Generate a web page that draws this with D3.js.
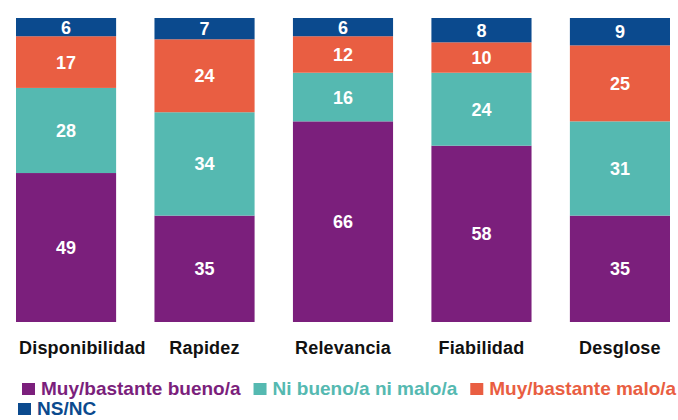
<!DOCTYPE html>
<html>
<head>
<meta charset="utf-8">
<script src="https://cdn.jsdelivr.net/npm/d3@7"></script>
<style>
  body { margin: 0; background: #fff; }
  svg { display: block; font-family: "Liberation Sans", Arial, sans-serif; font-weight: bold; }
</style>
</head>
<body>
<svg></svg>
<script>
var width = 678;
var height = 420;

var categories = ['Disponibilidad', 'Rapidez', 'Relevancia', 'Fiabilidad', 'Desglose'];
var seriesNames = ['Muy/bastante bueno/a', 'Ni bueno/a ni malo/a', 'Muy/bastante malo/a', 'NS/NC'];
var bueno = [49, 35, 66, 58, 35];
var neutro = [28, 34, 16, 24, 31];
var malo = [17, 24, 12, 10, 25];
var nsnc = [6, 7, 6, 8, 9];
var colors = ['#7b1f7c', '#55b9b1', '#e95e42', '#0b4a8e'];

var svg = d3.select('svg')
    .attr('width', width)
    .attr('height', height);

var rows = categories.map(function(c, i) {
    return { cat: c, s0: bueno[i], s1: neutro[i], s2: malo[i], s3: nsnc[i] };
});

var stack = d3.stack().keys(['s0', 's1', 's2', 's3']);
var layers = stack(rows);

var x = d3.scaleBand()
    .domain(categories)
    .range([16, 670])
    .paddingInner(0.277)
    .paddingOuter(0);

var y = d3.scaleLinear()
    .domain([0, 100])
    .range([322, 18]);

var layer = svg.append('g')
    .selectAll('g')
    .data(layers)
    .enter().append('g')
    .attr('fill', function(d, i) { return colors[i]; });

layer.selectAll('rect')
    .data(function(d) { return d; })
    .enter().append('rect')
    .attr('x', function(d) { return x(d.data.cat); })
    .attr('y', function(d) { return y(d[1]); })
    .attr('width', x.bandwidth())
    .attr('height', function(d) { return y(d[0]) - y(d[1]); });

layer.selectAll('text')
    .data(function(d) { return d; })
    .enter().append('text')
    .attr('x', function(d) { return x(d.data.cat) + x.bandwidth() / 2; })
    .attr('y', function(d) { return (y(d[0]) + y(d[1])) / 2; })
    .attr('dy', '0.36em')
    .attr('text-anchor', 'middle')
    .attr('fill', '#fff')
    .style('font-size', '18px')
    .text(function(d) { return d[1] - d[0]; });

// category labels under the bars
var catLabels = svg.append('g')
    .selectAll('text')
    .data(categories)
    .enter().append('text')
    .attr('y', 354)
    .attr('fill', '#111')
    .style('font-size', '18px')
    .style('letter-spacing', '0.2px')
    .text(function(d) { return d; });

catLabels.each(function(d) {
    var w = this.getComputedTextLength();
    var cx = x(d) + x.bandwidth() / 2;
    var left = cx - w / 2;
    if (w > x.bandwidth()) left = x(d) + 3;
    d3.select(this).attr('x', left);
});

// legend, flowing left to right and wrapping
var legend = svg.append('g');
var lx = 22, ly = 395, box = 13;
seriesNames.forEach(function(name, i) {
    var item = legend.append('g');
    var t = item.append('text')
        .attr('fill', colors[i])
        .style('font-size', '19px')
        .text(name);
    var w = t.node().getComputedTextLength();
    if (lx + box + 6 + w > width) {
        lx = 18;
        ly += 20;
    }
    item.append('rect')
        .attr('x', lx)
        .attr('y', ly - 12)
        .attr('width', box)
        .attr('height', box - 1)
        .attr('fill', colors[i]);
    t.attr('x', lx + box + 6).attr('y', ly);
    lx += box + 6 + w + 13;
});
</script>
</body>
</html>
